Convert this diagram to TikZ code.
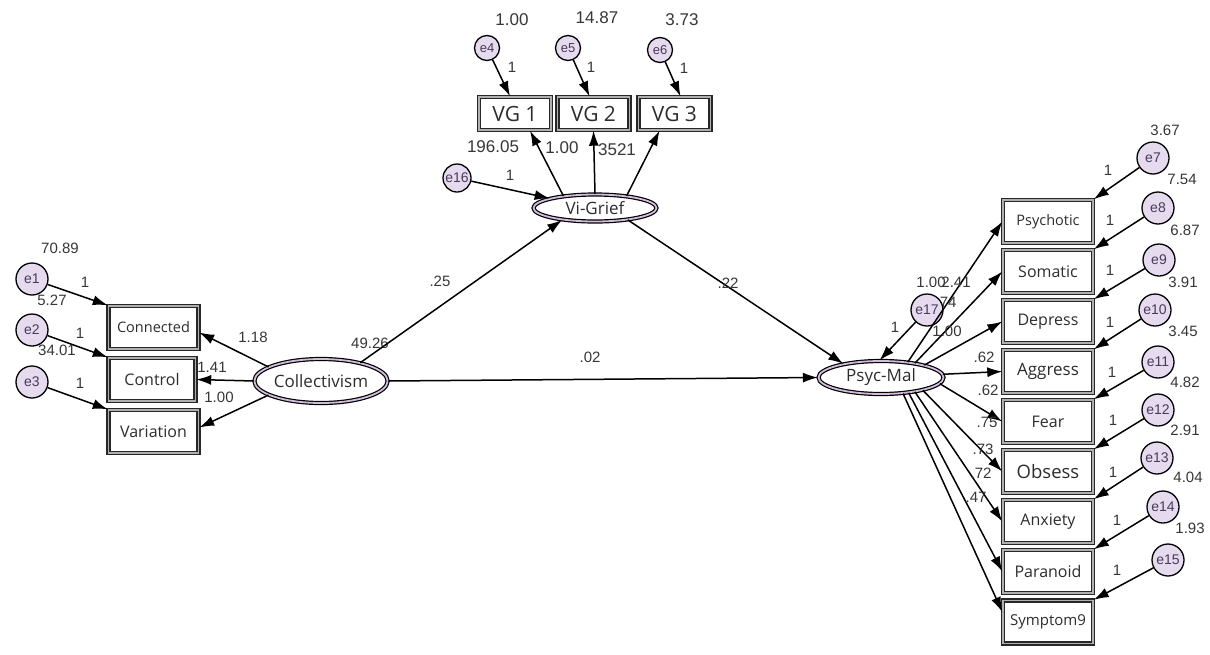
\documentclass[tikz,border=0pt]{standalone}
\usepackage{fontspec}
\setmainfont{Liberation Sans}
\newfontfamily\boxfont{Open Sans}
\usetikzlibrary{arrows.meta,calc,shapes.geometric}
\definecolor{numgray}{RGB}{55,55,55}
\definecolor{textgray}{RGB}{45,45,45}
\definecolor{boxdark}{RGB}{40,40,40}
\definecolor{boxgray}{RGB}{175,175,175}
\definecolor{latpurple}{RGB}{210,188,222}
\definecolor{errfill}{RGB}{230,218,238}
\definecolor{errtext}{RGB}{70,60,90}
\begin{document}
\begin{tikzpicture}[x=1pt,y=-1pt,
  num/.style={font=\fontsize{15}{15}\selectfont, text=numgray, inner sep=0},
  bignum/.style={font=\fontsize{17}{17}\selectfont, text=numgray, inner sep=0},
  obs/.style={draw=boxdark, double=boxgray, double distance=1.8pt, line width=1.4pt, fill=white,
    font=\boxfont\fontsize{16}{16}\selectfont, text=textgray, inner sep=0,
    minimum width=90pt, minimum height=43pt},
  vgbox/.style={obs, font=\boxfont\fontsize{21}{21}\selectfont, minimum width=72pt, minimum height=33pt},
  lat/.style={ellipse, draw=black, double=latpurple, double distance=1.8pt, line width=1.2pt, fill=white,
    text=textgray, inner sep=0, font=\boxfont\fontsize{17}{17}\selectfont},
  err/.style={circle, draw=black, line width=1.3pt, fill=errfill, minimum size=32pt, inner sep=0,
    font=\fontsize{14}{14}\selectfont, text=errtext},
  errs/.style={err, minimum size=25pt, font=\fontsize{13}{13}\selectfont},
  arr/.style={-{Latex[length=15pt,width=10pt]}, line width=1.5pt, draw=black},
]
\useasboundingbox (0,0) rectangle (1210,654);
\fill[white] (0,0) rectangle (1210,654);

% ---------- top: VG indicators ----------
\node[vgbox] (vg1) at (515,113.5) {VG 1};
\node[vgbox] (vg2) at (593.5,113.5) {VG 2};
\node[vgbox] (vg3) at (674.5,113.5) {VG 3};
\node[lat, minimum width=123pt, minimum height=27pt] (vg) at (595,208) {Vi-Grief};
\node[errs] (e4) at (487,48) {e4};
\node[errs] (e5) at (568,48) {e5};
\node[errs] (e6) at (660,50) {e6};
\node[err, minimum size=28pt] (e16) at (457,178) {e16};

\draw[arr] (e4) -- ($(vg1.north)+(-5,0)$);
\draw[arr] (e5) -- ($(vg2.north)+(-4,0)$);
\draw[arr] (e6) -- ($(vg3.north)+(6,0)$);
\draw[arr] (vg.159) -- ($(vg1.south)+(15,0)$);
\draw[arr] (vg.north) -- (vg2.south);
\draw[arr] (vg.21) -- ($(vg3.south)+(-15,0)$);
\draw[arr] (e16) -- (vg.168);

\node[bignum] (l1) at (512,20) {1.00};
\node[bignum] (l2) at (597,18) {14.87};
\node[bignum] (l3) at (682,20) {3.73};
\node[num] (l4) at (512,67) {1};
\node[num] (l5) at (591,67) {1};
\node[num] (l6) at (684,68) {1};
\node[bignum] (l7) at (493,147) {196.05};
\node[bignum] (l8) at (562,148) {1.00};
\node[bignum] (l9) at (617,150) {3521};
\node[num] (l10) at (510,175) {1};

% ---------- left: Collectivism ----------
\node[obs, font=\boxfont\fontsize{14.5}{14.5}\selectfont] (con) at (153.5,327.5) {Connected};
\node[obs, minimum width=87pt] (ctl) at (152,379.5) {Control};
\node[obs] (var) at (153.5,431.5) {Variation};
\node[lat, minimum width=119pt, minimum height=44pt] (col) at (321,381) {Collectivism};
\node[err] (e1) at (32,279) {e1};
\node[err] (e2) at (32,330) {e2};
\node[err] (e3) at (32,382) {e3};

\draw[arr] (e1) -- (con.north west);
\draw[arr] (e2) -- (ctl.north west);
\draw[arr] (e3) -- (var.north west);
\draw[arr] (col.165) -- ($(con.east)+(0,5)$);
\draw[arr] (col.west) -- (ctl.east);
\draw[arr] (col.195) -- ($(var.east)+(0,-4)$);

\node[num] (m1) at (60,248) {70.89};
\node[num] (m2) at (52,300) {5.27};
\node[num] (m3) at (57,350) {34.01};
\node[num] (m4) at (85,282) {1};
\node[num] (m5) at (80,333) {1};
\node[num] (m6) at (80,383) {1};
\node[num] (m7) at (253,337) {1.18};
\node[num] (m8) at (212,367) {1.41};
\node[num] (m9) at (219,397) {1.00};
\node[num] (m10) at (370,343) {49.26};

% ---------- right: Psyc-Mal ----------
\node[lat, minimum width=125pt, minimum height=33pt] (pm) at (881,377.5) {Psyc-Mal};
\node[obs, font=\boxfont\fontsize{14.5}{14.5}\selectfont] (psy) at (1048,221.5) {Psychotic};
\node[obs] (som) at (1048,271.5) {Somatic};
\node[obs] (dep) at (1048,321.5) {Depress};
\node[obs, font=\boxfont\fontsize{17}{17}\selectfont] (agg) at (1048,371.5) {Aggress};
\node[obs] (fea) at (1048,421.5) {Fear};
\node[obs, font=\boxfont\fontsize{18.5}{18.5}\selectfont] (obse) at (1048,471.5) {Obsess};
\node[obs] (anx) at (1048,521.5) {Anxiety};
\node[obs] (par) at (1048,571.5) {Paranoid};
\node[obs, font=\boxfont\fontsize{15}{15}\selectfont] (s9) at (1048,622) {Symptom9};

\node[err] (e7) at (1153,158) {e7};
\node[err] (e8) at (1158,208) {e8};
\node[err] (e9) at (1159,260) {e9};
\node[err] (e10) at (1155,310) {e10};
\node[err] (e11) at (1158,362) {e11};
\node[err] (e12) at (1158,410) {e12};
\node[err] (e13) at (1157,458) {e13};
\node[err] (e14) at (1163,507) {e14};
\node[err] (e15) at (1168,560) {e15};

\draw[arr] (e7) -- (psy.north east);
\draw[arr] (e8) -- (som.north east);
\draw[arr] (e9) -- (dep.north east);
\draw[arr] (e10) -- (agg.north east);
\draw[arr] (e11) -- (fea.north east);
\draw[arr] (e12) -- (obse.north east);
\draw[arr] (e13) -- (anx.north east);
\draw[arr] (e14) -- (par.north east);
\draw[arr] (e15) -- (s9.north east);

\node[num] (r0) at (1165,130) {3.67};
\node[num] (r1) at (1182,179) {7.54};
\node[num] (r2) at (1185,230) {6.87};
\node[num] (r3) at (1183,282) {3.91};
\node[num] (r4) at (1183,331) {3.45};
\node[num] (r5) at (1185,382) {4.82};
\node[num] (r6) at (1185,430) {2.91};
\node[num] (r7) at (1188,477) {4.04};
\node[num] (r8) at (1190,528) {1.93};
\node[num] (q1) at (1108,170) {1};
\node[num] (q2) at (1110,220) {1};
\node[num] (q3) at (1110,270) {1};
\node[num] (q4) at (1110,322) {1};
\node[num] (q5) at (1112,372) {1};
\node[num] (q6) at (1113,420) {1};
\node[num] (q7) at (1113,472) {1};
\node[num] (q8) at (1117,520) {1};
\node[num] (q9) at (1117,570) {1};

% e17 and structural labels
\node[num] (p74) at (946,302) {.74};
\node[err] (e17) at (927,310) {e17};
\draw[arr] (e17) -- (pm.95);

\draw[arr] (pm.30) -- (psy.west);
\draw[arr] (pm.23) -- (som.west);
\draw[arr] (pm.16) -- (dep.west);
\draw[arr] (pm.3) -- (agg.west);
\draw[arr] (pm.-6) -- (fea.west);
\draw[arr] (pm.-17) -- (obse.west);
\draw[arr] (pm.-23) -- (anx.west);
\draw[arr] (pm.-29) -- (par.west);
\draw[arr] (pm.-36) -- ($(s9.west)+(0,-10)$);

\node[num] (p1) at (931,282) {1.00};
\node[num] (p2) at (956,282) {2.41};
\node[num] (p3) at (895,327) {1};
\node[num] (p4) at (947,331) {1.00};
\node[num] (p5) at (984,357) {.62};
\node[num] (p6) at (988,390) {.62};
\node[num] (p7) at (987,422) {.75};
\node[num] (p8) at (983,449) {.73};
\node[num] (p9) at (981,473) {.72};
\node[num] (p10) at (976,497) {.47};

% structural paths
\draw[arr] (col.25) -- (vg.200);
\draw[arr] (col.east) -- (pm.west);
\draw[arr] (vg.-20) -- (pm.160);
\node[num] (s1) at (440,281) {.25};
\node[num] (s2) at (590,357) {.02};
\node[num] (s3) at (728,283) {.22};
\end{tikzpicture}
\end{document}
